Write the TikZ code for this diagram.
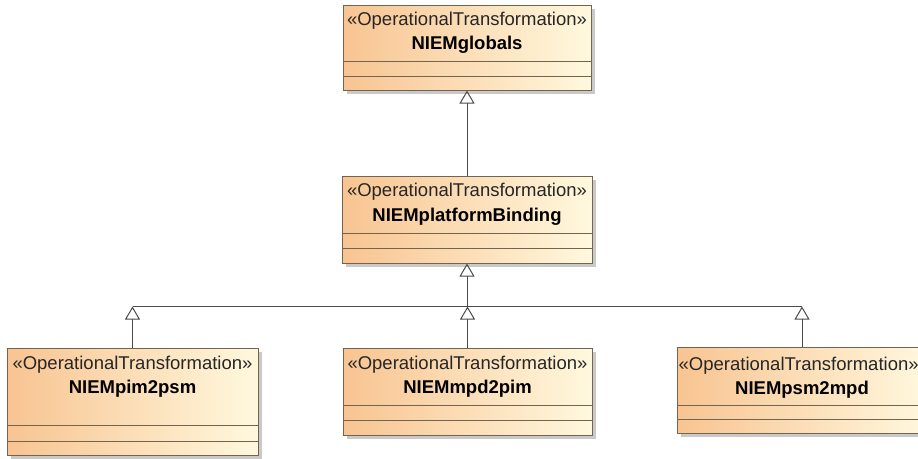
\documentclass[tikz,border=0pt]{standalone}
\usepackage{fontspec}
\setmainfont{Liberation Sans}
\usepackage{xcolor}
\usepackage{tikz}
\usetikzlibrary{arrows.meta,positioning,calc,shadows}
\definecolor{classorange}{RGB}{248, 196, 145}
\definecolor{classcream}{RGB}{255, 248, 222}
\definecolor{classborder}{RGB}{115, 100, 80}
\definecolor{linkgray}{RGB}{75, 75, 75}

\begin{document}
\begin{tikzpicture}[x=1pt, y=-1pt,
    opclass/.style={draw=classborder, line width=1pt, left color=classorange, right color=classcream,
        drop shadow={shadow xshift=3.5pt, shadow yshift=-3.5pt, fill=black!30, opacity=0.7}},
    stereotxt/.style={font=\fontsize{18.5}{20}\selectfont, text=black!85, inner sep=0pt},
    nametxt/.style={font=\fontsize{18.5}{20}\selectfont\bfseries, inner sep=0pt},
    compline/.style={draw=classborder, line width=0.9pt},
    gen/.style={draw=linkgray, line width=1pt, -{Triangle[open, length=13pt, width=15pt]}},
    bus/.style={draw=linkgray, line width=1pt}]
    \useasboundingbox (0,0) rectangle (918,458);

    % Top class
    \node[opclass, minimum width=248, minimum height=85] (globals) at (467, 47.5) {};
    \node[stereotxt] (globals-st) at ($(globals.north)+(0,16)$) {«OperationalTransformation»};
    \node[nametxt] (globals-nm) at ($(globals.north)+(0,40)$) {NIEMglobals};
    \draw[compline] ($(globals.south west)+(0,-29)$) -- ($(globals.south east)+(0,-29)$);
    \draw[compline] ($(globals.south west)+(0,-14)$) -- ($(globals.south east)+(0,-14)$);

    % Middle class
    \node[opclass, minimum width=250, minimum height=87] (binding) at (467, 219.5) {};
    \node[stereotxt] (binding-st) at ($(binding.north)+(0,16)$) {«OperationalTransformation»};
    \node[nametxt] (binding-nm) at ($(binding.north)+(0,41)$) {NIEMplatformBinding};
    \draw[compline] ($(binding.south west)+(0,-30)$) -- ($(binding.south east)+(0,-30)$);
    \draw[compline] ($(binding.south west)+(0,-15)$) -- ($(binding.south east)+(0,-15)$);

    % Bottom classes
    \node[opclass, minimum width=251, minimum height=107] (pim2psm) at (132.5, 401.5) {};
    \node[stereotxt] (pim2psm-st) at ($(pim2psm.north)+(0,17)$) {«OperationalTransformation»};
    \node[nametxt] (pim2psm-nm) at ($(pim2psm.north)+(0,41)$) {NIEMpim2psm};
    \draw[compline] ($(pim2psm.south west)+(0,-30)$) -- ($(pim2psm.south east)+(0,-30)$);
    \draw[compline] ($(pim2psm.south west)+(0,-14)$) -- ($(pim2psm.south east)+(0,-14)$);

    \node[opclass, minimum width=249, minimum height=87] (mpd2pim) at (467.5, 391.5) {};
    \node[stereotxt] (mpd2pim-st) at ($(mpd2pim.north)+(0,17)$) {«OperationalTransformation»};
    \node[nametxt] (mpd2pim-nm) at ($(mpd2pim.north)+(0,41)$) {NIEMmpd2pim};
    \draw[compline] ($(mpd2pim.south west)+(0,-30)$) -- ($(mpd2pim.south east)+(0,-30)$);
    \draw[compline] ($(mpd2pim.south west)+(0,-15)$) -- ($(mpd2pim.south east)+(0,-15)$);

    \node[opclass, minimum width=250, minimum height=86] (psm2mpd) at (802, 390) {};
    \node[stereotxt, anchor=west] (psm2mpd-st) at ($(psm2mpd.north west)+(2,19)$) {«OperationalTransformation»};
    \node[nametxt] (psm2mpd-nm) at ($(psm2mpd.north)+(0,43)$) {NIEMpsm2mpd};
    \draw[compline] ($(psm2mpd.south west)+(0,-28)$) -- ($(psm2mpd.south east)+(0,-28)$);
    \draw[compline] ($(psm2mpd.south west)+(0,-14)$) -- ($(psm2mpd.south east)+(0,-14)$);

    % Generalizations
    \coordinate (junction) at ($(binding.south)+(0,43)$);
    \draw[gen] (binding.north) -- (globals.south);
    \draw[gen] (junction) -- (binding.south);
    \draw[bus] (pim2psm.north |- junction) -- (psm2mpd.north |- junction);
    \draw[gen] (pim2psm.north) -- (pim2psm.north |- junction);
    \draw[gen] (mpd2pim.north) -- (mpd2pim.north |- junction);
    \draw[gen] (psm2mpd.north) -- (psm2mpd.north |- junction);
\end{tikzpicture}
\end{document}
